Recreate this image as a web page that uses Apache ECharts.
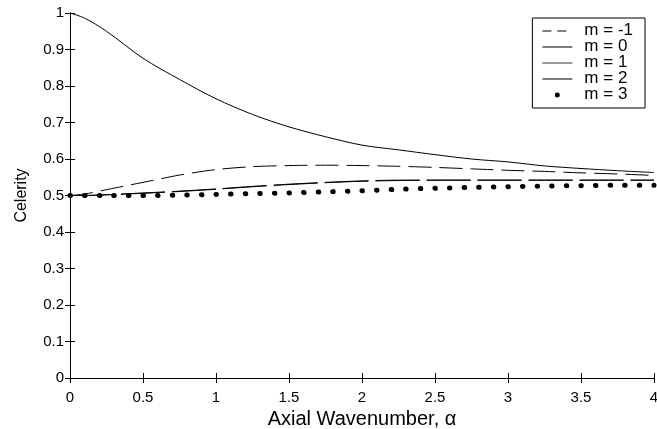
<!DOCTYPE html>
<html>
<head>
<meta charset="utf-8">
<script src="https://cdn.jsdelivr.net/npm/echarts@6/dist/echarts.min.js"></script>
<style>html,body{margin:0;padding:0;background:#fff}#c{width:657px;height:429px}</style>
</head>
<body>
<div id="c"></div>
<script>
var alpha = [0, 0.1, 0.25, 0.5, 0.75, 1, 1.25, 1.5, 1.75, 2, 2.25, 2.5, 2.75, 3, 3.25, 3.5, 3.75, 4];
var mNeg1 = [0.5, 0.504, 0.516, 0.536, 0.556, 0.571, 0.579, 0.582, 0.583, 0.582, 0.58, 0.577, 0.573, 0.569, 0.566, 0.562, 0.559, 0.555];
var m0 = [1.0, 0.986, 0.95, 0.876, 0.818, 0.765, 0.722, 0.688, 0.661, 0.638, 0.625, 0.612, 0.6, 0.592, 0.581, 0.574, 0.568, 0.563];
var m1 = [0.5, 0.5, 0.502, 0.506, 0.511, 0.517, 0.524, 0.53, 0.535, 0.539, 0.541, 0.542, 0.542, 0.542, 0.542, 0.542, 0.542, 0.542];
var m2 = [0.5, 0.5, 0.502, 0.507, 0.512, 0.518, 0.525, 0.531, 0.536, 0.54, 0.542, 0.542, 0.542, 0.542, 0.542, 0.542, 0.542, 0.542];
var m3 = [0.5, 0.5, 0.5, 0.5, 0.501, 0.503, 0.505, 0.507, 0.51, 0.513, 0.517, 0.52, 0.522, 0.524, 0.526, 0.527, 0.528, 0.528];
var names = ['m = -1', 'm = 0', 'm = 1', 'm = 2', 'm = 3'];
var xTicks = ['0', '0.5', '1', '1.5', '2', '2.5', '3', '3.5', '4'];
var yTicks = ['0', '0.1', '0.2', '0.3', '0.4', '0.5', '0.6', '0.7', '0.8', '0.9', '1'];

function pairs(ys) { return alpha.map(function (a, i) { return [a, ys[i]]; }); }
var FONT = 'Liberation Sans, Arial, sans-serif';
var tickStyle = { show: true, inside: true, length: 5, lineStyle: { color: '#000', width: 1 } };
var lineAx = { show: true, lineStyle: { color: '#000', width: 1 } };

var chart = echarts.init(document.getElementById('c'), null, { renderer: 'canvas' });
chart.setOption({
  animation: false,
  backgroundColor: '#fff',
  grid: { left: 70, right: 3, top: 13, bottom: 51, containLabel: false, outerBoundsMode: 'none' },
  xAxis: [{
    type: 'value', min: 0, max: 4, interval: 0.5,
    axisLine: lineAx, axisTick: tickStyle, splitLine: { show: false },
    axisLabel: { color: '#000', fontSize: 15, fontFamily: FONT, margin: 12,
      formatter: function (v) { return xTicks[Math.round(v / 0.5)]; } },
    name: 'Axial Wavenumber, α', nameLocation: 'middle', nameGap: 30,
    nameTextStyle: { color: '#000', fontSize: 20, fontFamily: FONT }
  }, {
    type: 'value', min: 0, max: 4, interval: 0.5, position: 'top',
    axisLine: lineAx, axisTick: tickStyle, axisLabel: { show: false }, splitLine: { show: false }
  }],
  yAxis: [{
    type: 'value', min: 0, max: 1, interval: 0.1,
    axisLine: lineAx, axisTick: tickStyle, splitLine: { show: false },
    axisLabel: { color: '#000', fontSize: 15, fontFamily: FONT, margin: 6,
      formatter: function (v) { return yTicks[Math.round(v * 10)]; } },
    name: 'Celerity', nameLocation: 'middle', nameGap: 40, nameRotate: 90,
    nameTextStyle: { color: '#000', fontSize: 16, fontFamily: FONT }
  }, {
    type: 'value', min: 0, max: 1, interval: 0.1, position: 'right',
    axisLine: lineAx, axisTick: tickStyle, axisLabel: { show: false }, splitLine: { show: false }
  }],
  legend: {
    orient: 'vertical', right: 12, top: 18,
    backgroundColor: '#fff', borderColor: '#000', borderWidth: 1, borderRadius: 0,
    padding: [4, 12, 5, 10], itemGap: -1, itemWidth: 30, itemHeight: 12,
    textStyle: { color: '#000', fontSize: 17, lineHeight: 16, fontFamily: FONT, padding: [0, 0, 0, 7] },
    data: [
      { name: names[0], icon: 'path://M0,0 L0,0.01 M30,12 L30,12.01 M0,6 L9,6 L9,7 L0,7 Z M15,6 L24,6 L24,7 L15,7 Z' },
      { name: names[1], icon: 'path://M0,0 L0,0.01 M30,12 L30,12.01 M0,6 L30,6 L30,7 L0,7 Z' },
      { name: names[2], icon: 'path://M0,0 L0,0.01 M30,12 L30,12.01 M0,6 L30,6 L30,7 L0,7 Z', itemStyle: { color: '#333' } },
      { name: names[3], icon: 'path://M0,0 L0,0.01 M30,12 L30,12.01 M0,6 L30,6 L30,7 L0,7 Z' },
      { name: names[4], icon: 'path://M0,0 L0,0.01 M30,12 L30,12.01 M12.5,6.5 A2.5,2.5 0 1 1 17.5,6.5 A2.5,2.5 0 1 1 12.5,6.5 Z' }
    ]
  },
  series: [
    { name: names[0], type: 'line', data: pairs(mNeg1), smooth: 0.3, symbol: 'none',
      lineStyle: { color: '#000', width: 1, type: [23, 8] }, itemStyle: { color: '#000' } },
    { name: names[1], type: 'line', data: pairs(m0), smooth: 0.3, symbol: 'none',
      lineStyle: { color: '#000', width: 1, type: 'solid' }, itemStyle: { color: '#000' } },
    { name: names[2], type: 'line', data: pairs(m1), smooth: 0.3, symbol: 'none',
      lineStyle: { color: '#000', width: 1, type: [44, 7] }, itemStyle: { color: '#000' } },
    { name: names[3], type: 'line', data: pairs(m2), smooth: 0.3, symbol: 'none',
      lineStyle: { color: '#000', width: 1, type: [44, 7] }, itemStyle: { color: '#000' } },
    { name: names[4], type: 'line', data: pairs(m3), smooth: 0.3, symbol: 'none',
      lineStyle: { color: '#000', width: 5, type: [0.5, 14.1], cap: 'round' }, itemStyle: { color: '#000' } }
  ]
});
</script>
</body>
</html>
